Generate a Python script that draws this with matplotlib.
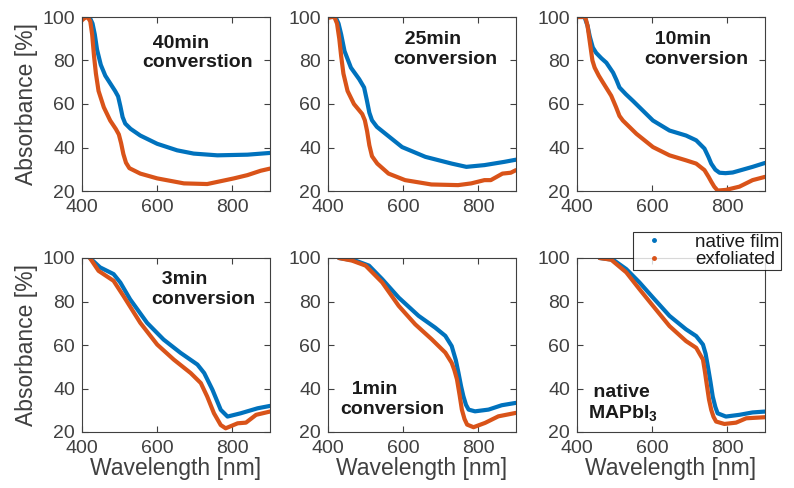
import matplotlib.pyplot as plt
from matplotlib.lines import Line2D

plt.rcParams["font.family"] = ["Liberation Sans", "DejaVu Sans"]
plt.rcParams["mathtext.fontset"] = "custom"
plt.rcParams["mathtext.bf"] = "Liberation Sans:bold"
plt.rcParams["mathtext.rm"] = "Liberation Sans"

blue = "#0072BD"
orange = "#D95319"
gray = "#404040"

# 40 min
wl_40_native = [400, 420, 428, 434, 440, 450, 462, 475, 488, 496, 502, 508, 515, 529, 555, 600, 653, 697, 760, 840, 900]
ab_40_native = [100, 100, 97, 92, 85, 78, 73, 69.5, 66, 63.5, 59, 54, 51, 48.6, 45.5, 41.7, 38.7, 37.2, 36.4, 36.7, 37.5]
wl_40_exf = [400, 407, 415, 422, 427, 432, 437, 444, 458, 475, 490, 498, 504, 510, 517, 526, 555, 600, 671, 733, 804, 840, 875, 900]
ab_40_exf = [98.5, 99.5, 100, 98, 92, 82, 74, 66, 58.5, 52.4, 48.5, 46, 42, 37, 33, 30.5, 28, 25.8, 23.5, 23.2, 25.8, 27.3, 29.3, 30.3]

# 25 min
wl_25_native = [400, 420, 428, 435, 444, 461, 483, 496, 503, 510, 517, 530, 553, 597, 659, 729, 768, 816, 869, 900]
ab_25_native = [100, 100, 97, 92, 84.3, 76.7, 71.4, 67.6, 62, 56, 52.5, 49.5, 46.3, 40.2, 35.7, 32.6, 31.1, 31.9, 33.4, 34.4]
wl_25_exf = [400, 410, 417, 424, 430, 435, 441, 452, 469, 491, 498, 504, 510, 517, 531, 561, 605, 675, 746, 781, 816, 833, 864, 886, 900]
ab_25_exf = [99.6, 100, 100, 97, 90, 82, 74, 66, 60, 55.4, 52.5, 47.5, 41, 36, 32.6, 28, 25, 23, 22.7, 23.5, 25, 25, 28, 28.4, 29.6]

# 10 min
wl_10_native = [400, 420, 428, 434, 442, 451, 465, 478, 496, 505, 513, 530, 549, 602, 646, 690, 717, 739, 750, 757, 768, 779, 795, 814, 867, 900]
ab_10_native = [100, 100, 96, 91, 86, 83.5, 81, 79, 74.4, 71, 67.6, 64.5, 61.4, 52.4, 47.8, 45.5, 43.3, 39.5, 35.5, 32.6, 29.8, 28.4, 28.2, 28.5, 31.1, 32.9]
wl_10_exf = [400, 422, 428, 435, 441, 447, 458, 469, 491, 504, 513, 522, 558, 602, 646, 690, 717, 739, 750, 757, 765, 774, 796, 832, 867, 900]
ab_10_exf = [100, 100, 96, 87.4, 80, 76.7, 73, 69.9, 63.8, 58.5, 54.5, 52.4, 46.3, 40.2, 36.4, 34.1, 32.6, 29.6, 26.5, 24.3, 22, 20.2, 20.5, 22, 25, 26.5]

# 3 min
wl_3_native = [421, 448, 484, 502, 528, 573, 617, 662, 707, 725, 747, 769, 787, 822, 867, 900]
ab_3_native = [100, 95.7, 92.6, 88.7, 81, 70.2, 62.5, 56.4, 51, 47.1, 39.4, 30.2, 27.1, 28.6, 30.9, 32]
wl_3_exf = [421, 444, 484, 510, 555, 600, 644, 689, 716, 733, 751, 769, 782, 814, 836, 863, 900]
ab_3_exf = [100, 94.1, 89.5, 82.6, 70.2, 60.2, 53.3, 47.1, 42.5, 36.3, 28.6, 23.2, 21.7, 24, 24.3, 27.9, 29.4]

# 1 min
wl_1_native = [429, 473, 509, 544, 588, 641, 685, 712, 729, 740, 747, 754, 760, 767, 774, 791, 827, 862, 900]
ab_1_native = [100, 98.8, 96.5, 90.3, 81.8, 73.4, 68, 64.2, 59.5, 53, 47.2, 41, 36.5, 32.5, 30.3, 29.5, 30.3, 32.3, 33.4]
wl_1_exf = [429, 464, 500, 544, 588, 632, 676, 712, 729, 736, 743, 750, 756, 763, 770, 787, 818, 853, 900]
ab_1_exf = [100, 98.8, 96.5, 88.8, 78, 69.5, 62.6, 56.5, 51.8, 48.5, 44.2, 37, 30.3, 26, 23.4, 22.2, 24.2, 27.2, 28.8]

# native MAPbI3
wl_0_native = [460, 496, 531, 566, 602, 646, 690, 717, 735, 742, 748, 755, 761, 768, 774, 796, 832, 867, 900]
ab_0_native = [100, 99.2, 94.9, 88.8, 81.8, 73.4, 67.2, 64.1, 60.2, 56, 50.2, 43, 36.3, 31.5, 28.6, 27.1, 27.9, 29, 29.4]
wl_0_exf = [460, 491, 531, 566, 602, 646, 690, 717, 735, 740, 745, 751, 757, 763, 770, 792, 823, 850, 900]
ab_0_exf = [100, 99.2, 93.4, 85.7, 78, 68.7, 61.8, 58.7, 53.3, 48, 42, 35, 30.2, 27, 24.8, 23.7, 24.3, 26.3, 26.8]

panels = [
    (wl_40_native, ab_40_native, wl_40_exf, ab_40_exf, "  40min\nconverstion", 707, 83.5),
    (wl_25_native, ab_25_native, wl_25_exf, ab_25_exf, "  25min\nconversion", 713, 85),
    (wl_10_native, ab_10_native, wl_10_exf, ab_10_exf, "  10min\nconversion", 717, 85),
    (wl_3_native, ab_3_native, wl_3_exf, ab_3_exf, "  3min\nconversion", 723, 85.5),
    (wl_1_native, ab_1_native, wl_1_exf, ab_1_exf, "  1min\nconversion", 572, 35),
    (wl_0_native, ab_0_native, wl_0_exf, ab_0_exf, " native\nMAPbI$_{\\bf 3}$", 522, 33),
]

fig = plt.figure(figsize=(7.94, 4.88), dpi=100)

lefts = [82 / 794, 328 / 794, 577 / 794]
bottoms = [1 - 191 / 488, 1 - 432 / 488]
w = 188 / 794
h = 174 / 488

for i, (x1, y1, x2, y2, label, tx, ty) in enumerate(panels):
    row, col = divmod(i, 3)
    ax = fig.add_axes([lefts[col], bottoms[row], w, h])
    ax.plot(x1, y1, color=blue, lw=3.0, solid_capstyle="round")
    ax.plot(x2, y2, color=orange, lw=3.0, solid_capstyle="round")
    ax.set_xlim(400, 900)
    ax.set_ylim(20, 100)
    ax.set_xticks([400, 600, 800])
    ax.set_yticks([20, 40, 60, 80, 100])
    ax.tick_params(direction="in", length=4, width=0.8, colors=gray,
                   labelsize=14, top=True, right=True)
    ax.tick_params(axis="x", pad=6)
    ax.tick_params(axis="y", pad=5)
    for s in ax.spines.values():
        s.set_color(gray)
        s.set_linewidth(0.8)
    ax.text(tx, ty, label, ha="center", va="center", multialignment="left",
            fontsize=14, fontweight="bold", color="#1a1a1a", linespacing=1.2)
    if col == 0:
        ax.set_ylabel("Absorbance [%]", fontsize=16.5, color=gray, labelpad=3)
    if row == 1:
        ax.set_xlabel("Wavelength [nm]", fontsize=16.5, color=gray, labelpad=0)

handles = [
    Line2D([], [], color=blue, marker=".", ls="none", ms=5),
    Line2D([], [], color=orange, marker=".", ls="none", ms=5),
]
leg = fig.legend(handles, ["native film", "exfoliated"], loc="upper left",
                 bbox_to_anchor=(633 / 794, 1 - 232 / 488), fontsize=13.5,
                 frameon=True, fancybox=False, borderpad=0.1,
                 labelspacing=0.0, handletextpad=1.2, borderaxespad=0)
leg.get_frame().set_edgecolor("black")
leg.get_frame().set_linewidth(0.8)
for t in leg.get_texts():
    t.set_color("#1a1a1a")

fig.savefig("out.png", dpi=100)
